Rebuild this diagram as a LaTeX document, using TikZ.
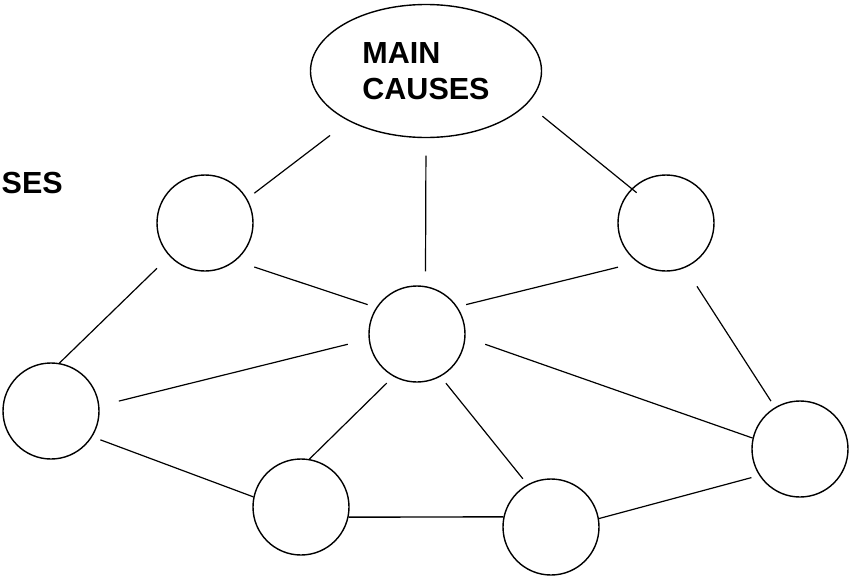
\documentclass[tikz,border=0pt]{standalone}
\usepackage{fontspec}
\setmainfont{Liberation Sans}
\usetikzlibrary{shapes.geometric}
\begin{document}
\begin{tikzpicture}[x=1pt,y=-1pt,
  every node/.style={inner sep=0pt},
  bigtext/.style={font=\bfseries\fontsize{30.5}{36.5}\selectfont},
  hub/.style={draw, ellipse, line width=1.4pt, minimum width=231pt,
              minimum height=133pt, align=left, bigtext},
  spot/.style={draw, circle, line width=1.4pt, minimum size=96pt},
  link/.style={line width=1.2pt},
  flatlink/.style={line width=1.4pt}]
\useasboundingbox (0,0) rectangle (851,576);

% central ellipse and the ring of circles
\node[hub] (e) at (426,71) {MAIN\\CAUSES};
\node[spot] (c1) at (205,223) {};
\node[spot] (c2) at (666,223) {};
\node[spot] (c3) at (417,334) {};
\node[spot] (c4) at (51,411) {};
\node[spot] (c5) at (301,507) {};
\node[spot] (c6) at (551,527) {};
\node[spot] (c7) at (800,449) {};

% partial caption at the left edge
\node[bigtext, anchor=base west] (ses) at (1.5,193) {SES};

% connections from the ellipse
\draw[link, shorten <=23.5pt, shorten >=9pt] (e.213) -- (c1.30);
\draw[link, shorten <=17.5pt, shorten >=14.6pt] (e.-90) -- (c3.80);
\draw[link, shorten <=19.5pt, shorten >=-6.5pt] (e.-18) -- (c2.135);

% connections between circles
\draw[link, shorten <=19.6pt, shorten >=9pt] (c1.-51) -- (c3.147);
\draw[link, shorten <=20pt, shorten >=9pt] (c2.-126) -- (c3.34);
\draw[link, shorten <=17.3pt] (c1.-137) -- (c4.80);
\draw[link, shorten <=22pt, shorten >=7.3pt] (c2.-67) -- (c7.121);
\draw[link, shorten <=21.4pt, shorten >=20pt] (c3.186) -- (c4.6);
\draw[link, shorten <=20.8pt] (c3.-4) -- (c7.167);
\draw[link, shorten <=9.3pt] (c3.-119) -- (c5.80);
\draw[link, shorten <=8.5pt, shorten >=7.2pt] (c3.-61) -- (c6.119);
\draw[link, shorten <=8.6pt] (c4.-32) -- (c5.168);
\draw[flatlink] (c5.-12) -- (c6.168);
\draw[link, shorten >=8pt] (c6.10) -- (c7.213);
\end{tikzpicture}
\end{document}
